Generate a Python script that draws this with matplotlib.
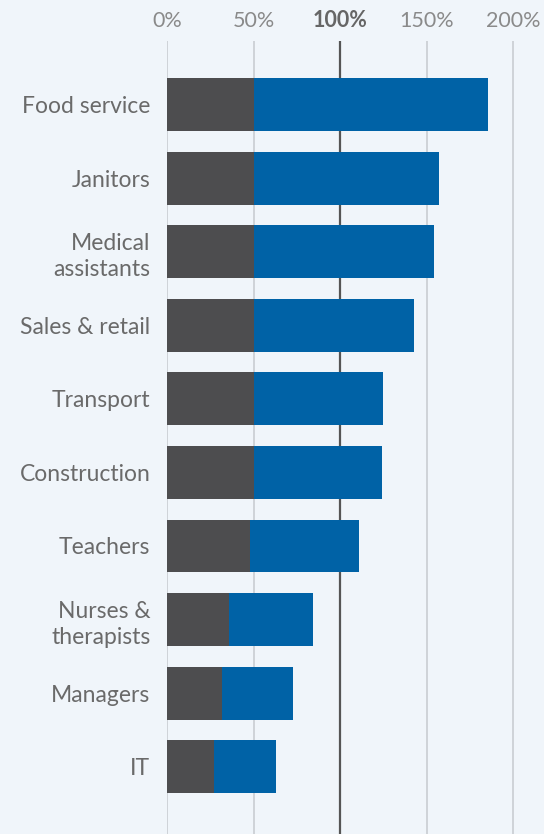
import numpy as np
import matplotlib.pyplot as plt

jobs = ["Food service", "Janitors", "Medical\nassistants", "Sales & retail", "Transport",
        "Construction", "Teachers", "Nurses &\ntherapists", "Managers", "IT"]
base = [50, 50, 50, 50, 50, 50, 47.8, 35.9, 31.5, 27.1]
total = [185.2, 157.3, 154.0, 142.4, 124.9, 124.1, 110.8, 84.1, 72.8, 62.8]
ticks = [0, 50, 100, 150, 200]
tick_labels = ["0%", "50%", "100%", "150%", "200%"]

bg = "#f0f5fa"
plt.rcParams['font.family'] = ['Lato', 'DejaVu Sans']

fig = plt.figure(figsize=(5.44, 8.34), dpi=100, facecolor=bg)
ax = fig.add_axes([167/544, 0, 1 - 167/544, 1 - 41/834])
ax.set_facecolor(bg)

y = np.arange(len(jobs))
extra = np.array(total) - np.array(base)
ax.barh(y, base, height=0.72, color="#4d4d4f", zorder=3)
ax.barh(y, extra, left=base, height=0.72, color="#0062a6", zorder=3)

# light gridlines, with the 100% mark drawn darker
for t in ticks:
    if t == 100:
        ax.axvline(t, color="#555555", lw=1.6, zorder=2)
    else:
        ax.axvline(t, color="#cfd3d8", lw=1.4, zorder=1)

ax.set_xlim(0, (544 - 167) / 1.7315)
ax.set_ylim(9.916, -0.866)

ax.xaxis.tick_top()
ax.set_xticks(ticks)
ax.set_xticklabels(tick_labels, fontsize=15.5, color="#8a8a8a")
ax.get_xticklabels()[2].set_fontweight("bold")
ax.get_xticklabels()[2].set_color("#666666")
ax.tick_params(axis="x", length=0, pad=7)

ax.set_yticks(y)
ax.set_yticklabels(jobs, fontsize=16.5, color="#6a6a6a", linespacing=1.3)
ax.tick_params(axis="y", length=0, pad=12)

for s in ax.spines.values():
    s.set_visible(False)

fig.savefig("out.png", dpi=100, facecolor=bg)
